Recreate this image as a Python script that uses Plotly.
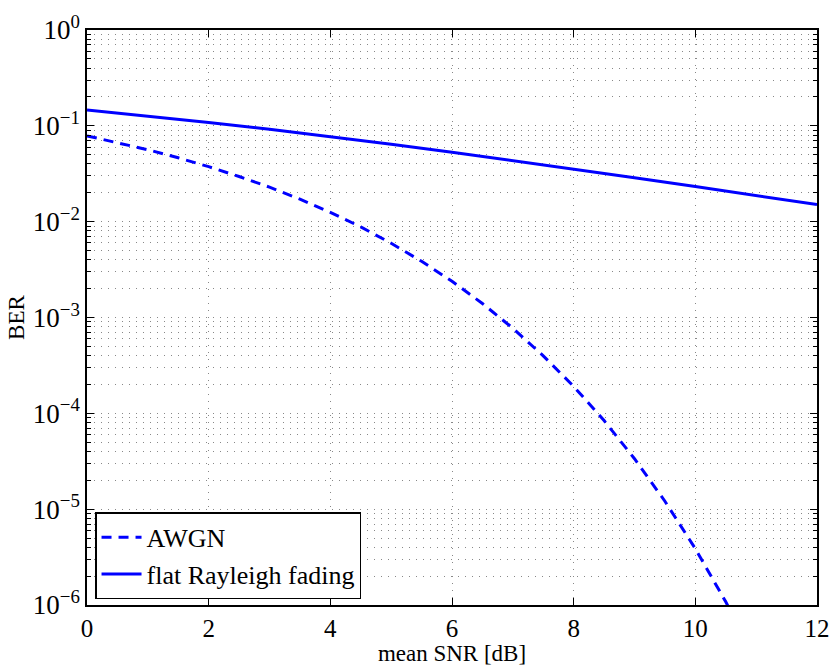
import plotly.graph_objects as go

snr_awgn = [0, 0.5, 1, 1.5, 2, 2.5, 3, 3.5, 4, 4.5, 5, 5.5, 6, 6.5, 7, 7.5, 8, 8.5, 9, 9.5, 10, 10.5, 11]
ber_awgn = [0.0786, 0.0671, 0.0563, 0.0464, 0.0375, 0.0296, 0.0229, 0.0172, 0.0125, 0.00882,
            0.00595, 0.00386, 0.00239, 0.00140, 0.000773, 0.000398, 0.000191, 8.4e-5, 3.36e-5,
            1.21e-5, 3.87e-6, 1.08e-6, 2.6e-7]
snr_ray = [0, 1, 2, 3, 4, 5, 6, 7, 8, 9, 10, 11, 12]
ber_ray = [0.1464, 0.1267, 0.1085, 0.0919, 0.0771, 0.0642, 0.0530, 0.0435, 0.0355, 0.0288,
           0.02326, 0.01875, 0.01507]
x_ticks = [0, 2, 4, 6, 8, 10, 12]
y_exps = [0, -1, -2, -3, -4, -5, -6]

font = "Liberation Serif, Times New Roman, serif"
grid_dash = "1px,6px"
grid_col = "#888888"

fig = go.Figure()
fig.add_trace(go.Scatter(x=snr_awgn, y=ber_awgn, mode="lines", name="AWGN",
                         line=dict(color="#0000ff", width=3, dash="10px,7px")))
fig.add_trace(go.Scatter(x=snr_ray, y=ber_ray, mode="lines", name="flat Rayleigh fading",
                         line=dict(color="#0000ff", width=3)))

fig.update_layout(
    width=830, height=666,
    margin=dict(l=87, r=13, t=30, b=61, autoexpand=False),
    paper_bgcolor="white", plot_bgcolor="white",
    font=dict(family=font, size=26, color="black"),
    showlegend=True,
    legend=dict(x=0.011, y=0.01, xanchor="left", yanchor="bottom",
                bgcolor="white", bordercolor="black", borderwidth=1.5,
                font=dict(size=26, family=font), tracegroupgap=0,
                itemwidth=40),
)
fig.update_xaxes(
    range=[0, 12], tickvals=x_ticks, ticktext=[str(v) for v in x_ticks],
    tickfont=dict(size=25),
    showline=True, linecolor="black", linewidth=1.5, mirror="ticks",
    ticks="inside", ticklen=7, tickcolor="black",
    showgrid=True, gridcolor=grid_col, griddash=grid_dash, gridwidth=1,
    zeroline=False, automargin=False,
    title=dict(text="mean SNR [dB]", font=dict(size=23), standoff=0),
)
fig.update_yaxes(
    type="log", range=[-6, 0],
    tickvals=[10 ** e for e in y_exps],
    ticktext=["10<sup>%s</sup>" % (str(e).replace("-", "\u2212")) for e in y_exps],
    tickfont=dict(size=27),
    showline=True, linecolor="black", linewidth=1.5, mirror="ticks",
    ticks="inside", ticklen=7, tickcolor="black",
    showgrid=True, gridcolor=grid_col, griddash=grid_dash, gridwidth=1,
    minor=dict(dtick="D1", ticks="inside", ticklen=4, tickcolor="black",
               showgrid=True, gridcolor=grid_col, griddash=grid_dash, gridwidth=1),
    zeroline=False, automargin=False,
    title=dict(text="BER", font=dict(size=23), standoff=2),
)

fig.write_html("out.html")
